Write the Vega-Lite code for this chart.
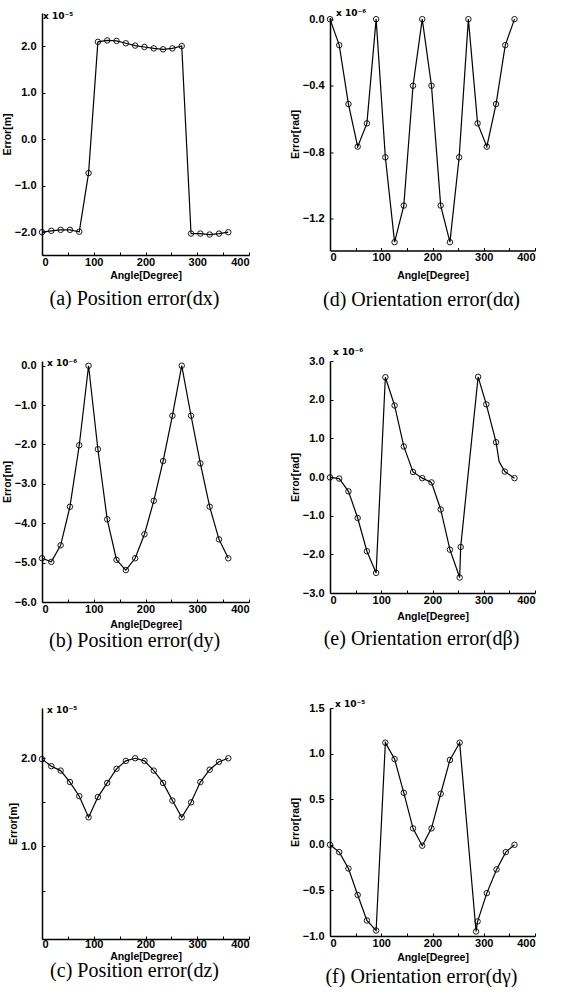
{
  "$schema": "https://vega.github.io/schema/vega-lite/v6.json",
  "background": "white",
  "autosize": {"type": "pad"},
  "padding": {"left": 2, "top": 8, "right": 0, "bottom": 0},
  "bounds": "flush",
  "center": true,
  "columns": 2,
  "spacing": {"row": 106, "column": 81},
  "config": {
    "view": {"stroke": null},
    "axis": {"grid": false, "labelOverlap": false, "labelBound": false, "domainColor": "black", "domainWidth": 1.5, "tickColor": "black", "tickWidth": 1, "tickSize": -3, "labelFont": "Liberation Sans", "labelFontWeight": "bold", "labelFontSize": 11, "labelColor": "black", "titleFont": "Liberation Sans", "titleFontWeight": "bold", "titleFontSize": 10.5, "titleColor": "black"},
    "axisX": {"labelPadding": 4, "titlePadding": 3},
    "axisY": {"labelPadding": 9, "titlePadding": 2},
    "title": {"orient": "bottom", "font": "Liberation Serif", "fontSize": 20, "fontWeight": "normal", "color": "black", "anchor": "middle", "frame": "group", "dx": -11},
    "line": {"color": "black", "strokeWidth": 1.2},
    "point": {"color": "black", "shape": "circle", "filled": false, "size": 30, "strokeWidth": 0.9, "opacity": 1},
    "text": {"align": "left", "font": "DejaVu Sans", "fontWeight": "bold", "fontSize": 9, "color": "black"}
  },
  "datasets": {
    "dx": [
      {"angle": 0, "error": -2.0}, {"angle": 18, "error": -1.97}, {"angle": 36, "error": -1.95}, {"angle": 54, "error": -1.95}, {"angle": 72, "error": -1.99}, {"angle": 90, "error": -0.73}, {"angle": 108, "error": 2.09}, {"angle": 126, "error": 2.12}, {"angle": 144, "error": 2.11}, {"angle": 162, "error": 2.06}, {"angle": 180, "error": 2.01}, {"angle": 198, "error": 1.98}, {"angle": 216, "error": 1.95}, {"angle": 234, "error": 1.93}, {"angle": 252, "error": 1.95}, {"angle": 270, "error": 2.0}, {"angle": 288, "error": -2.03}, {"angle": 306, "error": -2.03}, {"angle": 324, "error": -2.05}, {"angle": 342, "error": -2.03}, {"angle": 360, "error": -2.0}
    ],
    "dy": [
      {"angle": 0, "error": -4.89}, {"angle": 18, "error": -4.98}, {"angle": 36, "error": -4.56}, {"angle": 54, "error": -3.58}, {"angle": 72, "error": -2.02}, {"angle": 90, "error": 0.0}, {"angle": 108, "error": -2.12}, {"angle": 126, "error": -3.9}, {"angle": 144, "error": -4.93}, {"angle": 162, "error": -5.19}, {"angle": 180, "error": -4.89}, {"angle": 198, "error": -4.28}, {"angle": 216, "error": -3.43}, {"angle": 234, "error": -2.42}, {"angle": 252, "error": -1.27}, {"angle": 270, "error": 0.0}, {"angle": 288, "error": -1.27}, {"angle": 306, "error": -2.48}, {"angle": 324, "error": -3.58}, {"angle": 342, "error": -4.41}, {"angle": 360, "error": -4.89}
    ],
    "dz": [
      {"angle": 0, "error": 1.99}, {"angle": 18, "error": 1.91}, {"angle": 36, "error": 1.86}, {"angle": 54, "error": 1.73}, {"angle": 72, "error": 1.57}, {"angle": 90, "error": 1.33}, {"angle": 108, "error": 1.56}, {"angle": 126, "error": 1.72}, {"angle": 144, "error": 1.88}, {"angle": 162, "error": 1.97}, {"angle": 180, "error": 2.0}, {"angle": 198, "error": 1.97}, {"angle": 216, "error": 1.86}, {"angle": 234, "error": 1.72}, {"angle": 252, "error": 1.52}, {"angle": 270, "error": 1.33}, {"angle": 288, "error": 1.5}, {"angle": 306, "error": 1.73}, {"angle": 324, "error": 1.87}, {"angle": 342, "error": 1.96}, {"angle": 360, "error": 2.0}
    ],
    "dalpha": [
      {"angle": 0, "error": 0.0}, {"angle": 18, "error": -0.156}, {"angle": 36, "error": -0.51}, {"angle": 54, "error": -0.766}, {"angle": 72, "error": -0.626}, {"angle": 90, "error": 0.0}, {"angle": 108, "error": -0.83}, {"angle": 126, "error": -1.34}, {"angle": 144, "error": -1.12}, {"angle": 162, "error": -0.4}, {"angle": 180, "error": 0.0}, {"angle": 198, "error": -0.4}, {"angle": 216, "error": -1.12}, {"angle": 234, "error": -1.34}, {"angle": 252, "error": -0.83}, {"angle": 270, "error": 0.0}, {"angle": 288, "error": -0.626}, {"angle": 306, "error": -0.766}, {"angle": 324, "error": -0.51}, {"angle": 342, "error": -0.156}, {"angle": 360, "error": 0.0}
    ],
    "dbeta": [
      {"angle": 0, "error": -0.01, "measured": true}, {"angle": 18, "error": -0.04, "measured": true}, {"angle": 36, "error": -0.37, "measured": true}, {"angle": 54, "error": -1.06, "measured": true}, {"angle": 72, "error": -1.92, "measured": true}, {"angle": 90, "error": -2.48, "measured": true}, {"angle": 108, "error": 2.58, "measured": true}, {"angle": 126, "error": 1.85, "measured": true}, {"angle": 144, "error": 0.79, "measured": true}, {"angle": 162, "error": 0.13, "measured": true}, {"angle": 180, "error": -0.03, "measured": true}, {"angle": 198, "error": -0.14, "measured": true}, {"angle": 216, "error": -0.84, "measured": true}, {"angle": 234, "error": -1.88, "measured": true}, {"angle": 253, "error": -2.6, "measured": true}, {"angle": 255, "error": -1.81, "measured": true}, {"angle": 289, "error": 2.59, "measured": true}, {"angle": 305, "error": 1.88, "measured": true}, {"angle": 324, "error": 0.9, "measured": true}, {"angle": 330, "error": 0.4, "measured": false}, {"angle": 341, "error": 0.14, "measured": true}, {"angle": 360, "error": -0.03, "measured": true}
    ],
    "dgamma": [
      {"angle": 0, "error": 0.0}, {"angle": 18, "error": -0.08}, {"angle": 36, "error": -0.26}, {"angle": 54, "error": -0.55}, {"angle": 72, "error": -0.83}, {"angle": 90, "error": -0.94}, {"angle": 108, "error": 1.12}, {"angle": 126, "error": 0.94}, {"angle": 144, "error": 0.57}, {"angle": 162, "error": 0.18}, {"angle": 180, "error": -0.01}, {"angle": 198, "error": 0.18}, {"angle": 216, "error": 0.56}, {"angle": 234, "error": 0.93}, {"angle": 253, "error": 1.12}, {"angle": 285, "error": -0.95}, {"angle": 288, "error": -0.84}, {"angle": 306, "error": -0.53}, {"angle": 325, "error": -0.27}, {"angle": 343, "error": -0.08}, {"angle": 360, "error": 0.0}
    ]
  },
  "concat": [
    {
      "width": 207, "height": 242,
      "title": {"text": "(a) Position error(dx)", "offset": 8},
      "encoding": {
        "x": {"field": "angle", "type": "quantitative", "scale": {"domain": [0, 400], "nice": false, "zero": false}, "axis": {"title": "Angle[Degree]", "values": [0, 50, 100, 150, 200, 250, 300, 350, 400], "labelExpr": "datum.value % 100 === 0 ? datum.label : ''", "titlePadding": 3}},
        "y": {"field": "error", "type": "quantitative", "scale": {"domain": [-2.49, 2.71], "nice": false, "zero": false}, "axis": {"title": "Error[m]", "values": [-2, -1, 0, 1, 2], "format": ".1f"}}
      },
      "layer": [
        {"data": {"name": "dx"}, "mark": "line"},
        {"data": {"name": "dx"}, "mark": "point"},
        {"data": {"values": [{"label": "x 10⁻⁵", "angle": 0, "error": 2.71}]}, "mark": {"type": "text", "baseline": "top", "dx": 1, "dy": -1}, "encoding": {"text": {"field": "label"}}}
      ]
    },
    {
      "width": 205, "height": 233,
      "title": {"text": "(d) Orientation error(dα)", "offset": 9},
      "encoding": {
        "x": {"field": "angle", "type": "quantitative", "scale": {"domain": [0, 400], "nice": false, "zero": false}, "axis": {"title": "Angle[Degree]", "values": [0, 50, 100, 150, 200, 250, 300, 350, 400], "labelExpr": "datum.value % 100 === 0 ? datum.label : ''", "titlePadding": 8}},
        "y": {"field": "error", "type": "quantitative", "scale": {"domain": [-1.39, 0.01], "nice": false, "zero": false}, "axis": {"title": "Error[rad]", "values": [-1.2, -0.8, -0.4, 0], "format": ".1f"}}
      },
      "layer": [
        {"data": {"name": "dalpha"}, "mark": "line"},
        {"data": {"name": "dalpha"}, "mark": "point"},
        {"data": {"values": [{"label": "x 10⁻⁶", "angle": 0, "error": 0.01}]}, "mark": {"type": "text", "baseline": "bottom", "dx": 6, "dy": 0}, "encoding": {"text": {"field": "label"}}}
      ]
    },
    {
      "width": 207, "height": 241,
      "title": {"text": "(b) Position error(dy)", "offset": 1},
      "encoding": {
        "x": {"field": "angle", "type": "quantitative", "scale": {"domain": [0, 400], "nice": false, "zero": false}, "axis": {"title": "Angle[Degree]", "values": [0, 50, 100, 150, 200, 250, 300, 350, 400], "labelExpr": "datum.value % 100 === 0 ? datum.label : ''", "titlePadding": 5}},
        "y": {"field": "error", "type": "quantitative", "scale": {"domain": [-6, 0.12], "nice": false, "zero": false}, "axis": {"title": "Error[m]", "values": [-6, -5, -4, -3, -2, -1, 0], "format": ".1f"}}
      },
      "layer": [
        {"data": {"name": "dy"}, "mark": "line"},
        {"data": {"name": "dy"}, "mark": "point"},
        {"data": {"values": [{"label": "x 10⁻⁶", "angle": 0, "error": 0.12}]}, "mark": {"type": "text", "baseline": "top", "dx": 5, "dy": -2}, "encoding": {"text": {"field": "label"}}}
      ]
    },
    {
      "width": 205, "height": 232,
      "title": {"text": "(e) Orientation error(dβ)", "offset": 7},
      "encoding": {
        "x": {"field": "angle", "type": "quantitative", "scale": {"domain": [0, 400], "nice": false, "zero": false}, "axis": {"title": "Angle[Degree]", "values": [0, 50, 100, 150, 200, 250, 300, 350, 400], "labelExpr": "datum.value % 100 === 0 ? datum.label : ''", "titlePadding": 6}},
        "y": {"field": "error", "type": "quantitative", "scale": {"domain": [-3, 3], "nice": false, "zero": false}, "axis": {"title": "Error[rad]", "values": [-3, -2, -1, 0, 1, 2, 3], "format": ".1f"}}
      },
      "layer": [
        {"data": {"name": "dbeta"}, "mark": "line"},
        {"data": {"name": "dbeta"}, "transform": [{"filter": "datum.measured"}], "mark": "point"},
        {"data": {"values": [{"label": "x 10⁻⁶", "angle": 0, "error": 3}]}, "mark": {"type": "text", "baseline": "bottom", "dx": 3, "dy": -4}, "encoding": {"text": {"field": "label"}}}
      ]
    },
    {
      "width": 207, "height": 231,
      "title": {"text": "(c) Position error(dz)", "offset": -1},
      "encoding": {
        "x": {"field": "angle", "type": "quantitative", "scale": {"domain": [0, 400], "nice": false, "zero": false}, "axis": {"title": "Angle[Degree]", "values": [0, 50, 100, 150, 200, 250, 300, 350, 400], "labelExpr": "datum.value % 100 === 0 ? datum.label : ''", "titlePadding": 2, "labelPadding": 2}},
        "y": {"field": "error", "type": "quantitative", "scale": {"domain": [-0.05, 2.57], "nice": false, "zero": false}, "axis": {"title": "Error[m]", "values": [0.5, 1, 1.5, 2], "format": ".1f", "labelExpr": "datum.value % 1 === 0 ? datum.label : ''"}}
      },
      "layer": [
        {"data": {"name": "dz"}, "mark": "line"},
        {"data": {"name": "dz"}, "mark": "point"},
        {"data": {"values": [{"label": "x 10⁻⁵", "angle": 0, "error": 2.57}]}, "mark": {"type": "text", "baseline": "top", "dx": 5, "dy": -2}, "encoding": {"text": {"field": "label"}}}
      ]
    },
    {
      "width": 205, "height": 228,
      "title": {"text": "(f) Orientation error(dγ)", "offset": 4},
      "encoding": {
        "x": {"field": "angle", "type": "quantitative", "scale": {"domain": [0, 400], "nice": false, "zero": false}, "axis": {"title": "Angle[Degree]", "values": [0, 50, 100, 150, 200, 250, 300, 350, 400], "labelExpr": "datum.value % 100 === 0 ? datum.label : ''", "titlePadding": 4}},
        "y": {"field": "error", "type": "quantitative", "scale": {"domain": [-1, 1.5], "nice": false, "zero": false}, "axis": {"title": "Error[rad]", "values": [-1, -0.5, 0, 0.5, 1, 1.5], "format": ".1f"}}
      },
      "layer": [
        {"data": {"name": "dgamma"}, "mark": "line"},
        {"data": {"name": "dgamma"}, "mark": "point"},
        {"data": {"values": [{"label": "x 10⁻⁵", "angle": 0, "error": 1.5}]}, "mark": {"type": "text", "baseline": "bottom", "dx": 5, "dy": 1}, "encoding": {"text": {"field": "label"}}}
      ]
    }
  ]
}
